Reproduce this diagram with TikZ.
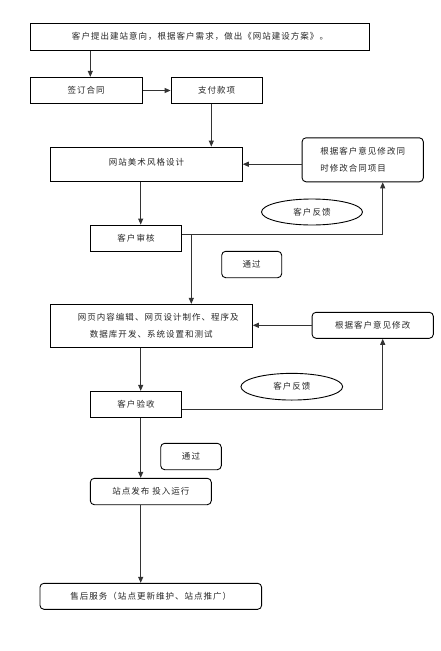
\documentclass[tikz,border=0pt]{standalone}
\usepackage{fontspec}
\newfontfamily\cjk[LetterSpace=12]{Noto Sans CJK SC}
\usetikzlibrary{shapes.geometric,arrows.meta}
\tikzset{
  every node/.style={font=\cjk\fontsize{8.5}{17}\selectfont, text=black!85, inner sep=0pt},
  box/.style={draw=black, line width=0.9pt, rectangle},
  rbox/.style={box, rounded corners=4pt},
  oval/.style={draw=black, line width=0.9pt, ellipse},
  conn/.style={draw=black!80, line width=0.9pt},
  arr/.style={conn, -{Triangle[length=6pt,width=5pt]}},
}
\begin{document}
\begin{tikzpicture}[x=1pt,y=-1pt]
\useasboundingbox[fill=white] (0,0) rectangle (441,651);
% x/y guide coordinates
\coordinate (xa) at (90.3,0);
\coordinate (xb) at (211.3,0);
\coordinate (xc) at (140.7,0);
\coordinate (xd) at (382.7,0);
\coordinate (xe) at (191.3,0);
\coordinate (ya) at (0,234);
\coordinate (yb) at (0,409.3);
% nodes
\node[box, minimum width=338.6pt, minimum height=27pt] (b1) at (200,36.8) {客户提出建站意向，根据客户需求，做出《网站建设方案》。};
\node[box, minimum width=111.7pt, minimum height=26.4pt] (b2) at (86.2,90.5) {签订合同};
\node[box, minimum width=91.3pt, minimum height=26.4pt] (b3) at (216.7,90.5) {支付款项};
\node[box, minimum width=191.6pt, minimum height=34.3pt] (b4) at (146.5,164.2) {\raisebox{4pt}{网站美术风格设计}};
\node[rbox, minimum width=121.3pt, minimum height=44pt, align=left] (b5) at (362.7,159.8) {根据客户意见修改同\\时修改合同项目};
\node[oval, minimum width=101pt, minimum height=26pt] (e1) at (312,212) {客户反馈};
\node[box, minimum width=91.4pt, minimum height=26.3pt] (b6) at (136,238.2) {客户审核};
\node[rbox, minimum width=60pt, minimum height=26.4pt] (p1) at (251.7,264.5) {通过};
\node[box, minimum width=202pt, minimum height=42.7pt, align=center] (b7) at (151.3,325.7) {\hspace*{14pt}网页内容编辑、网页设计制作、程序及\\数据库开发、系统设置和测试};
\node[rbox, minimum width=121.3pt, minimum height=26pt] (b8) at (372.7,325.3) {根据客户意见修改};
\node[oval, minimum width=101.7pt, minimum height=26.7pt] (e2) at (291.8,386.7) {客户反馈};
\node[box, minimum width=91.4pt, minimum height=26pt] (b9) at (136,404.3) {客户验收};
\node[rbox, minimum width=60.6pt, minimum height=26.4pt] (p2) at (191,456.5) {通过};
\node[rbox, minimum width=121pt, minimum height=26.4pt] (b10) at (150.8,491.5) {站点发布 投入运行};
\node[rbox, minimum width=221.7pt, minimum height=26pt] (b11) at (150.8,596.3) {售后服务（站点更新维护、站点推广）};
% connectors
\draw[arr] (b1.south -| xa) -- (b2.north -| xa);
\draw[arr] (b2.east) -- (b3.west);
\draw[arr] (b3.south -| xb) -- (b4.north -| xb);
\draw[arr] (b5.west |- b4.east) -- (b4.east);
\draw[arr] (b4.south -| xc) -- (b6.north -| xc);
\draw[arr] (b6.east |- ya) -- (xd |- ya) -- (b5.south -| xd);
\draw[arr] (xe |- ya) -- (b7.north -| xe);
\draw[arr] (b8.west) -- (b8.west -| b7.east);
\draw[arr] (b7.south -| xc) -- (b9.north -| xc);
\draw[arr] (b9.east |- yb) -- (xd |- yb) -- (b8.south -| xd);
\draw[arr] (b9.south -| xc) -- (b10.north -| xc);
\draw[arr] (b10.south -| xc) -- (b11.north -| xc);
\end{tikzpicture}
\end{document}
